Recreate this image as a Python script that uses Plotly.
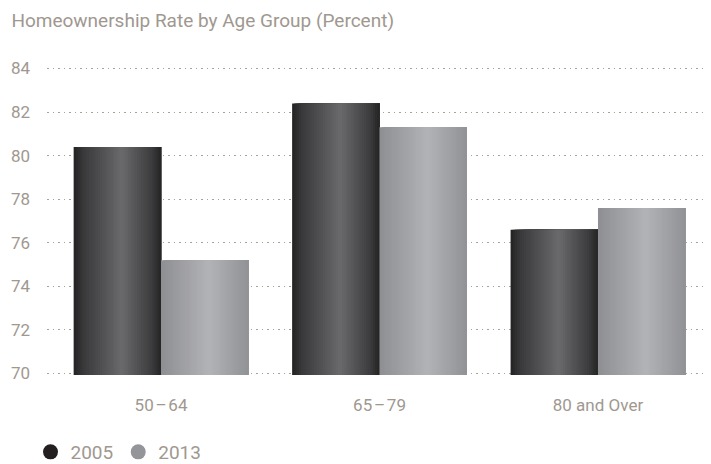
import plotly.graph_objects as go

categories = ["50\u200a\u2013\u200a64", "65\u200a\u2013\u200a79", "80 and Over"]
series_names = ["2005", "2013"]
values_2005 = [80.4, 82.4, 76.6]
values_2013 = [75.2, 81.3, 77.6]
y_ticks = [70, 72, 74, 76, 78, 80, 82, 84]

TXT = "#a09890"
FONT = "Roboto"

# horizontal gradient colour stops (style only)
stops = {
    "2005": [(0.0, (36, 34, 35)), (0.12, (58, 58, 60)), (0.55, (106, 106, 108)),
             (0.88, (62, 62, 64)), (1.0, (38, 36, 37))],
    "2013": [(0.0, (142, 143, 147)), (0.55, (178, 179, 183)), (1.0, (145, 146, 150))],
}
legend_colors = {"2005": "#231f20", "2013": "#939598"}


def interp(st, t):
    for (t0, c0), (t1, c1) in zip(st[:-1], st[1:]):
        if t0 <= t <= t1:
            f = (t - t0) / (t1 - t0) if t1 > t0 else 0
            return "rgb(%d,%d,%d)" % tuple(round(a + (b - a) * f) for a, b in zip(c0, c1))
    return "rgb(%d,%d,%d)" % st[-1][1]


fig = go.Figure()
N = 40
bar_w = 0.4
w = bar_w / N
for k, (name, vals) in enumerate(zip(series_names, [values_2005, values_2013])):
    start = -bar_w + k * bar_w
    for i in range(N):
        t = (i + 0.5) / N
        # each slice runs from its own left edge to the bar's right edge;
        # later slices are drawn on top, so no background leaks between them
        fig.add_trace(go.Bar(
            x=categories, y=vals,
            offset=start + i * w, width=bar_w - i * w,
            marker=dict(color=interp(stops[name], t), line=dict(width=0)),
            showlegend=False, hoverinfo="skip",
        ))
    fig.add_trace(go.Scatter(
        x=[None], y=[None], mode="markers", name=name,
        marker=dict(symbol="circle", size=15, color=legend_colors[name]),
    ))

fig.update_layout(
    width=711, height=464,
    margin=dict(l=47, r=4, t=67, b=89, autoexpand=False),
    paper_bgcolor="white", plot_bgcolor="white",
    barmode="overlay",
    font=dict(family=FONT, color=TXT, size=15),
    title=dict(text="Homeownership Rate by Age Group (Percent)", x=0.016, xanchor="left",
               y=0.957, yanchor="middle", pad=dict(t=0, b=0, l=0, r=0),
               font=dict(size=19, color=TXT, family=FONT)),
    xaxis=dict(range=[-0.522, 2.499], showgrid=False, showline=False, zeroline=False,
               automargin=False,
               ticks="", tickfont=dict(size=17, color=TXT), ticklabelstandoff=18),
    yaxis=dict(range=[69.93, 84.07], tickvals=y_ticks, showgrid=True, gridcolor="#ab a196".replace(" ", ""),
               griddash="1.5px,4px", gridwidth=1.2, zeroline=False, showline=False,
               automargin=False,
               ticks="", ticklabelstandoff=16, tickfont=dict(size=17, color=TXT)),
    showlegend=True,
    legend=dict(orientation="h", x=-0.025, xanchor="left", y=-0.25, yanchor="middle",
                font=dict(size=19, color=TXT, family=FONT), itemwidth=30,
                bgcolor="rgba(0,0,0,0)"),
)

fig.write_html("out.html", config={"displayModeBar": False},
               post_script="document.body.style.margin='0';document.body.style.padding='0';")
